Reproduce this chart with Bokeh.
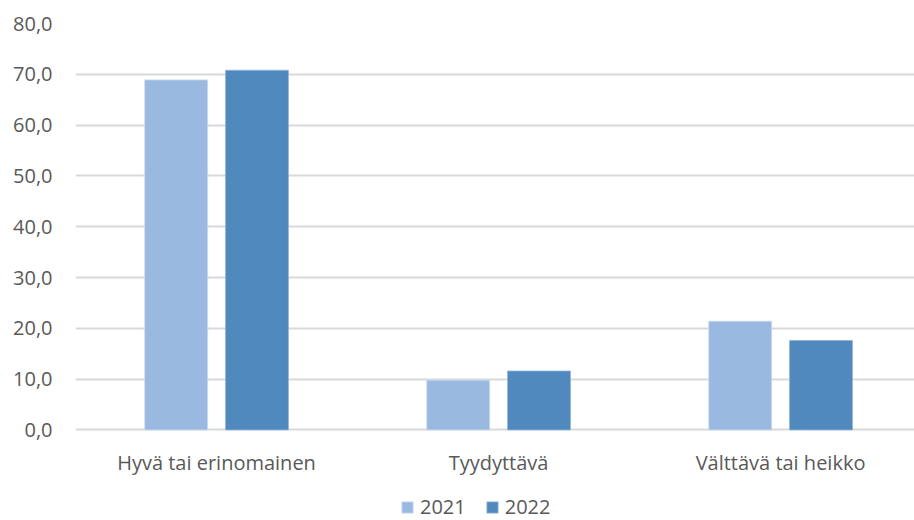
from bokeh.plotting import figure
from bokeh.models import ColumnDataSource, Range1d, Legend, LegendItem, CustomJSTickFormatter, FixedTicker
from bokeh.core.properties import value
from bokeh.transform import dodge
from bokeh.embed import file_html
from bokeh.resources import INLINE

categories = ["Hyvä tai erinomainen", "Tyydyttävä", "Välttävä tai heikko"]
series_names = ["2021", "2022"]
values_2021 = [68.9, 9.8, 21.4]
values_2022 = [70.8, 11.6, 17.6]
y_ticks = [0, 10, 20, 30, 40, 50, 60, 70, 80]
colors = ["#9AB9E0", "#4F89BD"]

xpos = [i + 0.5 for i in range(len(categories))]
src = ColumnDataSource(dict(x=xpos, cat=categories, zero=[0] * len(categories),
                            y2021=values_2021, y2022=values_2022))

FONT = "Open Sans"
TXT = "#595959"
FS = "20px"

# y range extends below zero so the category labels and legend sit inside the frame
p = figure(width=914, height=520, x_range=Range1d(0, 2.975),
           y_range=Range1d(-17.82, 80), output_backend="svg", toolbar_location=None,
           x_axis_location=None,
           min_border_left=75, min_border_right=0, min_border_top=23, min_border_bottom=0)
p.outline_line_color = None

r1 = p.vbar(x=dodge("x", -0.143), top="y2021", width=0.223, source=src,
            fill_color=colors[0], line_color="#C8DAF0", line_width=0.8)
r2 = p.vbar(x=dodge("x", 0.1435), top="y2022", width=0.223, source=src,
            fill_color=colors[1], line_color="#8FB4DA", line_width=0.8)

# category labels under the baseline
p.text(x="x", y="zero", text="cat", source=src, text_font=value(FONT),
       text_font_size=FS, text_color=TXT, text_align="center", text_baseline="top",
       y_offset=19)

p.yaxis.ticker = FixedTicker(ticks=y_ticks)
p.yaxis.formatter = CustomJSTickFormatter(code="return tick.toFixed(1).replace('.', ',');")
p.yaxis.axis_line_color = None
p.yaxis.major_tick_line_color = None
p.yaxis.minor_tick_line_color = None
p.yaxis.major_tick_out = 0
p.yaxis.minor_tick_out = 0
p.yaxis.major_label_text_font = FONT
p.yaxis.major_label_text_font_size = FS
p.yaxis.major_label_text_color = TXT
p.yaxis.major_label_standoff = 23

p.xgrid.grid_line_color = None
p.ygrid.grid_line_color = "#D9D9D9"
p.ygrid.grid_line_width = 2

legend = Legend(items=[LegendItem(label=series_names[0], renderers=[r1]),
                       LegendItem(label=series_names[1], renderers=[r2])],
                orientation="horizontal", location=(325, 0),
                label_text_font=FONT, label_text_font_size=FS, label_text_color=TXT,
                label_height=20,
                glyph_width=14, glyph_height=14, label_standoff=6, spacing=19,
                padding=0, margin=0, border_line_color=None, background_fill_alpha=0)
p.add_layout(legend, "center")

open("out.html", "w").write(file_html(p, INLINE))
